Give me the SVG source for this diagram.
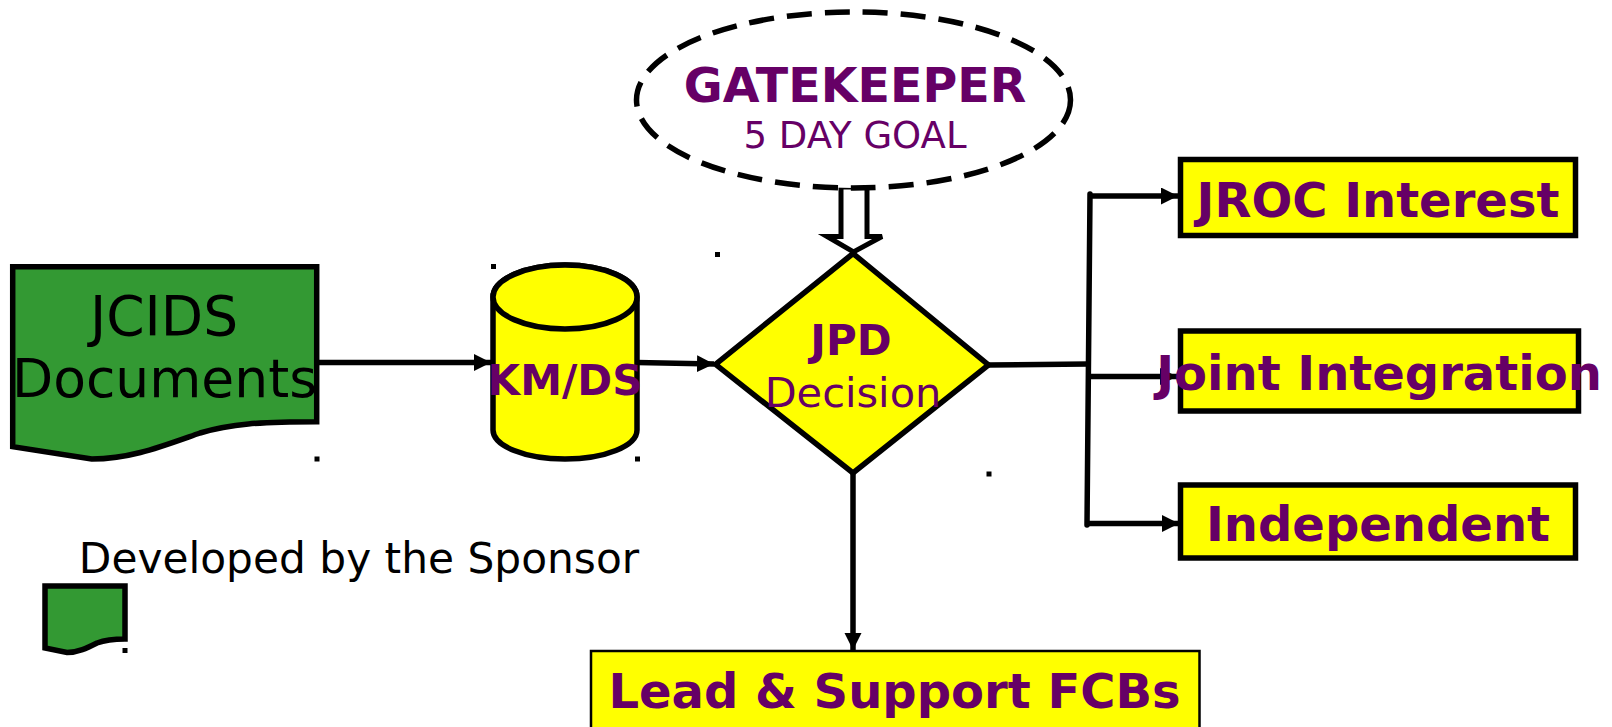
<svg xmlns="http://www.w3.org/2000/svg" width="1612" height="727" viewBox="0 0 1612 727">
<style>
.shape{stroke:#000;stroke-width:5.5;stroke-linejoin:miter}
.green{fill:#339933}
.yellow{fill:#ffff00}
.conn{fill:none;stroke:#000;stroke-width:5.5}
.t{font-family:"DejaVu Sans","Liberation Sans",sans-serif;text-anchor:middle}
.b{font-weight:bold;fill:#660066}
.p{fill:#660066}
.k{fill:#000}
.dot{fill:#000}
</style>
<defs>
<marker id="ah" markerUnits="userSpaceOnUse" markerWidth="19" markerHeight="18" refX="17" refY="8.5" orient="auto">
<path d="M0,0 L17,8.5 L0,17 Z" fill="#000"/>
</marker>
</defs>
<rect width="1612" height="727" fill="#fff"/>

<g id="connectors">
<line class="conn" x1="317" y1="362.5" x2="491" y2="362.5" marker-end="url(#ah)"/>
<line class="conn" x1="637" y1="362.5" x2="714" y2="364" marker-end="url(#ah)"/>
<line class="conn" x1="988" y1="365" x2="1088" y2="364" stroke-width="4.5"/>
<line class="conn" x1="1090" y1="194" x2="1087" y2="525" stroke-width="6" stroke-linecap="round"/>
<line class="conn" x1="1089" y1="196" x2="1178" y2="196" marker-end="url(#ah)"/>
<line class="conn" x1="1087" y1="376.5" x2="1177" y2="376.5" marker-end="url(#ah)"/>
<line class="conn" x1="1085" y1="523.5" x2="1179" y2="523.5" marker-end="url(#ah)"/>
<line class="conn" x1="853" y1="473" x2="853" y2="650" marker-end="url(#ah)"/>
<polygon points="841,187 867,187 867,236.5 882,236.5 853.5,252 827,236.5 841,236.5" fill="#fff" stroke="#000" stroke-width="5"/>
</g>

<g id="dots">
<rect class="dot" x="491" y="264" width="5" height="5"/>
<rect class="dot" x="715" y="252" width="5" height="5"/>
<rect class="dot" x="314.5" y="456.5" width="5" height="5"/>
<rect class="dot" x="635" y="456.5" width="5" height="5"/>
<rect class="dot" x="986.5" y="471.5" width="5" height="5"/>
<rect class="dot" x="122.5" y="648" width="5" height="5"/>
</g>

<g id="jcids">
<path class="shape green" d="M12.7,266.7 L316.7,266.7 L316.7,421.7 C260,421.7 230,424 200,433 C160,447 130,459 91.7,459 L12.7,446.7 Z"/>
<text class="t k" x="164" y="335" font-size="55">JCIDS</text>
<text class="t k" x="164.5" y="397" font-size="53.5">Documents</text>
</g>

<g id="kmds">
<path class="shape yellow" d="M493,297 A72,32 0 0 1 637,297 L637,430 A72,29 0 0 1 493,430 Z"/>
<ellipse class="shape yellow" cx="565" cy="297" rx="72" ry="32"/>
<text class="t b" x="565" y="395" font-size="42">KM/DS</text>
</g>

<g id="gatekeeper">
<ellipse cx="853.5" cy="100" rx="217" ry="88" fill="#fff" stroke="#000" stroke-width="5.5" stroke-dasharray="25,13"/>
<text class="t b" x="855" y="101.5" font-size="47.5">GATEKEEPER</text>
<text class="t p" x="855" y="148" font-size="37">5 DAY GOAL</text>
</g>

<g id="jpd">
<polygon class="shape yellow" points="715.5,364.3 853,253.5 988.5,365 853,473"/>
<text class="t b" x="851" y="355" font-size="42">JPD</text>
<text class="t p" x="853" y="406.5" font-size="41.5">Decision</text>
</g>

<g id="jroc">
<rect class="shape yellow" x="1180.5" y="159.5" width="395" height="76" stroke-width="4.5"/>
<text class="t b" x="1378" y="217" font-size="48">JROC Interest</text>
</g>

<g id="joint">
<rect class="shape yellow" x="1180.5" y="331" width="398" height="80" stroke-width="4.5"/>
<text class="t b" x="1379" y="390" font-size="48">Joint Integration</text>
</g>

<g id="independent">
<rect class="shape yellow" x="1180.5" y="485" width="395" height="73" stroke-width="4.5"/>
<text class="t b" x="1378" y="540.5" font-size="48">Independent</text>
</g>

<g id="lead">
<rect class="yellow" x="591" y="651" width="608.5" height="80" stroke="#000" stroke-width="2.5"/>
<text class="t b" x="894.5" y="708" font-size="48">Lead &amp; Support FCBs</text>
</g>

<g id="legend">
<text class="t k" x="359" y="572.5" font-size="42.3">Developed by the Sponsor</text>
<path class="shape green" stroke-width="4.5" d="M45,586 L125,586 L125,639 C114,639 105,640 97,643 C87,648 78,652.5 67,652.5 L45,648 Z"/>
</g>
</svg>
